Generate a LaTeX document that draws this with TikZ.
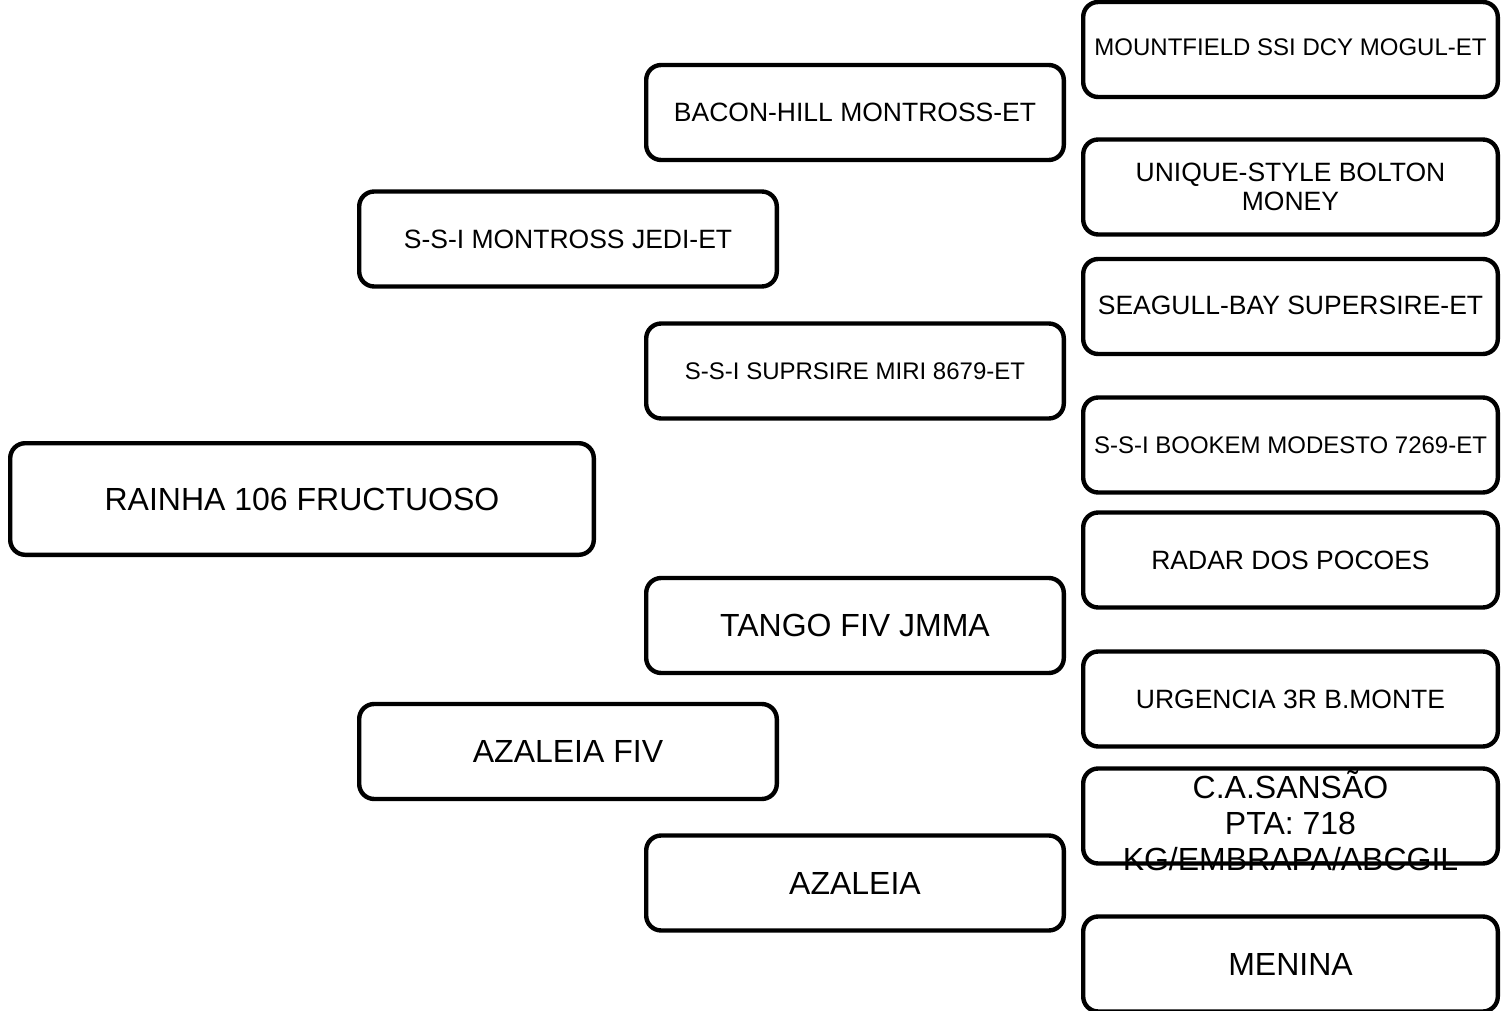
\documentclass[tikz,border=0pt]{standalone}
\usepackage{fontspec}
\setmainfont{Liberation Sans}
\usetikzlibrary{positioning}
\newcommand{\kleinschrift}{\fontsize{12}{14}\selectfont}
\newcommand{\mittelschrift}{\fontsize{13.25}{14.5}\selectfont}
\newcommand{\grossschrift}{\fontsize{16}{18}\selectfont}
\tikzset{
  kasten/.style={draw=black, line width=2.2pt, rounded corners=7.5pt, fill=white,
    inner sep=0pt, minimum width=208.8pt, minimum height=47.5pt, align=center},
}

\begin{document}
\begin{tikzpicture}[x=0.5pt, y=-0.5pt] % 1 Einheit = 1 Pixel, y nach unten
\useasboundingbox (0,0) rectangle (1501,1011);

% Tier
\node[kasten, minimum width=291.8pt, minimum height=55.8pt, font=\grossschrift] (tier) at (302,499) {RAINHA 106 FRUCTUOSO};

% Eltern
\node[kasten, font=\mittelschrift] (vater) at (568,239) {S-S-I MONTROSS JEDI-ET};
\node[kasten, font=\grossschrift] (mutter) at (568,751.5) {AZALEIA FIV};

% Grosseltern
\foreach \n/\y/\f/\txt in {1/112.5/\mittelschrift/BACON-HILL MONTROSS-ET, 2/371/\kleinschrift/S-S-I SUPRSIRE MIRI 8679-ET, 3/625.5/\grossschrift/TANGO FIV JMMA, 4/883/\grossschrift/AZALEIA} {
  \node[kasten, font=\f] (g\n) at (855,\y) {\txt};
}

% Urgrosseltern
\foreach \n/\y/\f/\txt in {1/49.5/\kleinschrift/\raisebox{2.5pt}{MOUNTFIELD SSI DCY MOGUL-ET}, 2/187/\mittelschrift/UNIQUE-STYLE BOLTON\\MONEY, 3/306.5/\mittelschrift/\raisebox{1.5pt}{SEAGULL-BAY SUPERSIRE-ET}, 4/445/\kleinschrift/S-S-I BOOKEM MODESTO 7269-ET, 5/560/\mittelschrift/RADAR DOS POCOES, 6/699/\mittelschrift/URGENCIA 3R B.MONTE, 7/816/\grossschrift/, 8/964/\grossschrift/MENINA} {
  \node[kasten, minimum width=207.3pt, font=\f] (u\n) at (1290.5,\y) {\txt};
}
% Text zu lang, laeuft ueber den Rand
\node[align=center, inner sep=0pt, font=\grossschrift, below=2pt of u7.north] (u7text) {C.A.SANS\~AO\\PTA: 718\\KG/EMBRAPA/ABCGIL};

\end{tikzpicture}
\end{document}
